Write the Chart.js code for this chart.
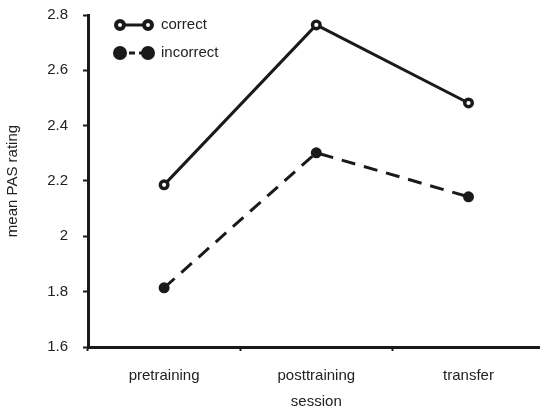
<!DOCTYPE html>
<html>
<head>
<meta charset="utf-8">
<script src="https://cdn.jsdelivr.net/npm/chart.js@4/dist/chart.umd.min.js"></script>
<style>
  html, body { margin: 0; padding: 0; background: #fff; overflow: hidden; }
  #wrap { width: 540px; height: 409px; overflow: hidden; }
  canvas { display: block; }
</style>
</head>
<body>
<div id="wrap"><canvas id="c" width="552" height="409"></canvas></div>
<script>
// Mean PAS rating by session
const sessions = ['pretraining', 'posttraining', 'transfer'];
const correctRatings = [2.186, 2.764, 2.482];
const incorrectRatings = [1.814, 2.302, 2.143];
const yTickLabels = ['1.6', '1.8', '2', '2.2', '2.4', '2.6', '2.8'];
const seriesNames = ['correct', 'incorrect'];

const FONT = { family: '"Liberation Sans", Arial, Helvetica, sans-serif', size: 15 };
const TEXT = '#222';
const INK = '#1a1a1a';

// Draws a line-with-end-markers key for each dataset in the upper left
const lineKey = {
  id: 'lineKey',
  afterDraw(chart) {
    const ctx = chart.ctx;
    const rows = [25, 53];
    const x0 = 120, x1 = 148;
    chart.data.datasets.forEach((ds, i) => {
      const y = rows[i];
      ctx.save();
      ctx.strokeStyle = ds.borderColor;
      ctx.lineWidth = ds.borderWidth;
      ctx.setLineDash(ds.borderDash && ds.borderDash.length ? [6, 4] : []);
      ctx.lineDashOffset = ds.borderDash && ds.borderDash.length ? -9 : 0;
      ctx.beginPath();
      ctx.moveTo(x0, y);
      ctx.lineTo(x1, y);
      ctx.stroke();
      ctx.setLineDash([]);
      [x0, x1].forEach(x => {
        ctx.beginPath();
        if (ds.pointBackgroundColor === '#ffffff') {
          ctx.arc(x, y, 4, 0, Math.PI * 2);
          ctx.fillStyle = '#ffffff';
          ctx.fill();
          ctx.lineWidth = 4;
          ctx.strokeStyle = ds.pointBorderColor;
          ctx.stroke();
        } else {
          ctx.arc(x, y, 7, 0, Math.PI * 2);
          ctx.fillStyle = ds.pointBackgroundColor;
          ctx.fill();
        }
      });
      ctx.fillStyle = TEXT;
      ctx.font = FONT.size + 'px ' + FONT.family;
      ctx.textBaseline = 'middle';
      ctx.textAlign = 'left';
      ctx.fillText(ds.label, 161, y);
      ctx.restore();
    });
  }
};

new Chart(document.getElementById('c'), {
  type: 'line',
  data: {
    labels: sessions,
    datasets: [
      {
        label: seriesNames[0],
        data: correctRatings,
        borderColor: INK,
        borderWidth: 3,
        pointRadius: 3.8,
        pointBorderWidth: 3.4,
        pointBackgroundColor: '#ffffff',
        pointBorderColor: INK,
        tension: 0
      },
      {
        label: seriesNames[1],
        data: incorrectRatings,
        borderColor: INK,
        borderWidth: 3,
        borderDash: [14, 9],
        pointRadius: 5.5,
        pointBorderWidth: 0,
        pointBackgroundColor: INK,
        pointBorderColor: INK,
        tension: 0
      }
    ]
  },
  options: {
    responsive: false,
    animation: false,
    devicePixelRatio: 1,
    layout: { padding: { left: 0, top: 15, right: 3.5, bottom: 0 } },
    plugins: {
      legend: { display: false },
      tooltip: { enabled: false }
    },
    scales: {
      x: {
        type: 'category',
        offset: true,
        grid: {
          offset: true,
          drawOnChartArea: false,
          drawTicks: true,
          tickLength: 4,
          tickWidth: 2,
          tickColor: INK
        },
        border: { display: true, color: INK, width: 3 },
        ticks: { color: TEXT, font: FONT, padding: 16, maxRotation: 0 },
        title: { display: true, text: 'session', color: TEXT, font: FONT, padding: { top: 0, bottom: -2 } },
        afterFit(s) {
          s.height = 62;
          s.paddingLeft = 0;
          s.paddingRight = 0;
        }
      },
      y: {
        min: 1.6,
        max: 2.8,
        grid: {
          drawOnChartArea: false,
          drawTicks: true,
          tickLength: 5,
          tickWidth: 2,
          tickColor: INK
        },
        border: { display: true, color: INK, width: 3 },
        ticks: {
          stepSize: 0.2,
          color: TEXT,
          font: FONT,
          padding: 15,
          callback: (v, i) => yTickLabels[i]
        },
        title: { display: true, text: 'mean PAS rating', color: TEXT, font: FONT, padding: { top: 3.5, bottom: 0 } },
        afterFit(s) {
          s.width = 88;
          s.paddingTop = 0;
          s.paddingBottom = 0;
        }
      }
    }
  },
  plugins: [lineKey]
});
</script>
</body>
</html>
